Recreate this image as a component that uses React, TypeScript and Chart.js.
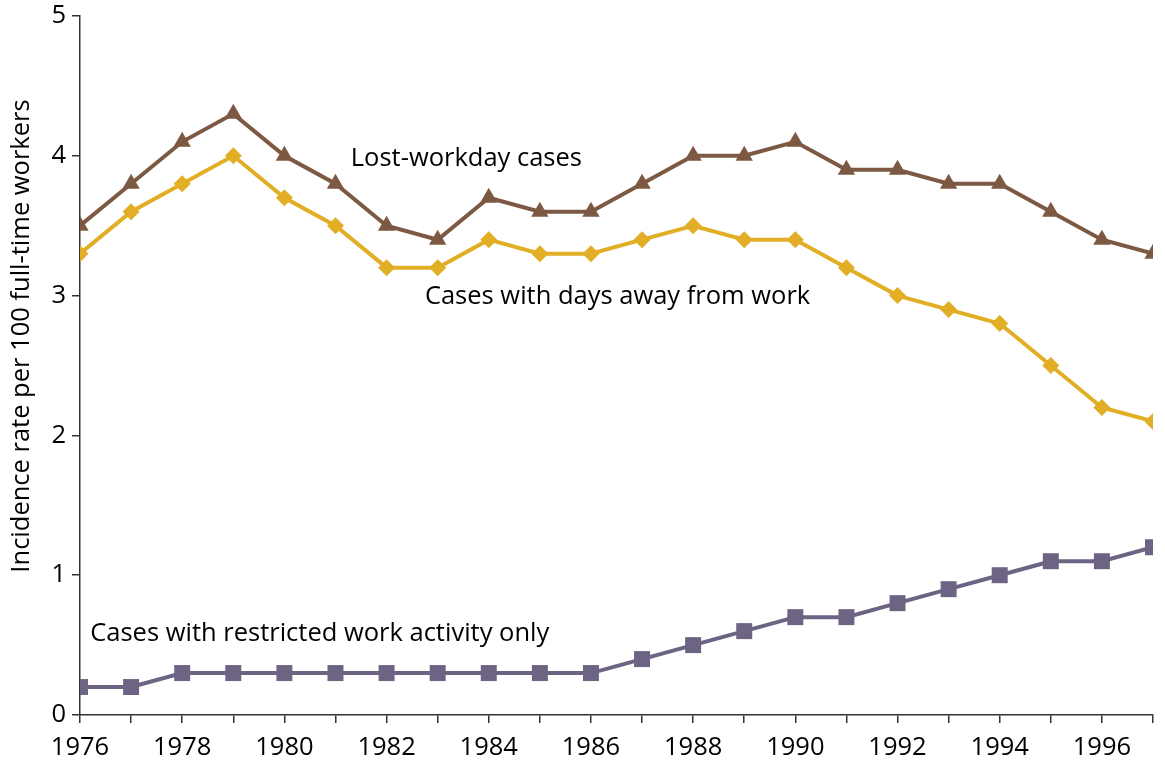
import React, { useEffect, useRef } from "react";
import { Chart, registerables } from "chart.js";

Chart.register(...registerables);

const years = [1976, 1977, 1978, 1979, 1980, 1981, 1982, 1983, 1984, 1985, 1986, 1987, 1988, 1989, 1990, 1991, 1992, 1993, 1994, 1995, 1996, 1997];
const lostWorkday = [3.5, 3.8, 4.1, 4.3, 4.0, 3.8, 3.5, 3.4, 3.7, 3.6, 3.6, 3.8, 4.0, 4.0, 4.1, 3.9, 3.9, 3.8, 3.8, 3.6, 3.4, 3.3];
const daysAway = [3.3, 3.6, 3.8, 4.0, 3.7, 3.5, 3.2, 3.2, 3.4, 3.3, 3.3, 3.4, 3.5, 3.4, 3.4, 3.2, 3.0, 2.9, 2.8, 2.5, 2.2, 2.1];
const restricted = [0.2, 0.2, 0.3, 0.3, 0.3, 0.3, 0.3, 0.3, 0.3, 0.3, 0.3, 0.4, 0.5, 0.6, 0.7, 0.7, 0.8, 0.9, 1.0, 1.1, 1.1, 1.2];
const seriesNames = ["Lost-workday cases", "Cases with days away from work", "Cases with restricted work activity only"];
const yTicks = [0, 1, 2, 3, 4, 5];
const yTitle = "Incidence rate per 100 full-time workers";

// annotation anchor points in data units [x, y]
const annotations = [
  { text: seriesNames[0], x: 1981.3, y: 3.98 },
  { text: seriesNames[1], x: 1982.75, y: 2.99 },
  { text: seriesNames[2], x: 1976.2, y: 0.58 },
];

const FONT = "'Open Sans', 'Noto Sans', sans-serif";

const labelPlugin = {
  id: "seriesLabels",
  afterDatasetsDraw(chart: any) {
    const { ctx, scales } = chart;
    ctx.save();
    ctx.fillStyle = "#000";
    ctx.font = `25.5px ${FONT}`;
    ctx.textAlign = "left";
    ctx.textBaseline = "middle";
    for (const a of annotations) {
      ctx.fillText(a.text, scales.x.getPixelForValue(a.x), scales.y.getPixelForValue(a.y));
    }
    // y axis title
    ctx.translate(22, 336);
    ctx.rotate(-Math.PI / 2);
    ctx.textAlign = "center";
    ctx.fillText(yTitle, 0, 0);
    ctx.restore();
  },
};

export default function App() {
  const ref = useRef<HTMLCanvasElement>(null);
  useEffect(() => {
    document.body.style.margin = "0";
    const toPts = (arr: number[]) => arr.map((v, i) => ({ x: years[i], y: v }));
    const chart = new Chart(ref.current!, {
      type: "line",
      data: {
        datasets: [
          {
            label: seriesNames[0],
            data: toPts(lostWorkday),
            borderColor: "#7d5943",
            backgroundColor: "#7d5943",
            borderWidth: 4,
            pointStyle: "triangle",
            pointRadius: 10,
            pointBorderWidth: 0,
          },
          {
            label: seriesNames[1],
            data: toPts(daysAway),
            borderColor: "#e1ae25",
            backgroundColor: "#e1ae25",
            borderWidth: 4,
            pointStyle: "rectRot",
            pointRadius: 8.5,
            pointBorderWidth: 0,
          },
          {
            label: seriesNames[2],
            data: toPts(restricted),
            borderColor: "#6d6483",
            backgroundColor: "#6d6483",
            borderWidth: 4,
            pointStyle: "rect",
            pointRadius: 11.3,
            pointBorderWidth: 0,
          },
        ],
      },
      options: {
        animation: false,
        responsive: false,
        maintainAspectRatio: false,
        layout: { padding: { top: 16, right: 12, left: 0, bottom: 0 } },
        plugins: { legend: { display: false }, tooltip: { enabled: false } },
        scales: {
          x: {
            type: "linear",
            min: 1976,
            max: 1997,
            afterFit: (s: any) => { s.height = 53; s.paddingLeft = 0; s.paddingRight = 0; },
            afterBuildTicks: (s: any) => { s.ticks = years.map((y) => ({ value: y })); },
            ticks: {
              autoSkip: false,
              maxRotation: 0,
              color: "#000",
              font: { family: FONT, size: 25.5 },
              padding: 9,
              callback: (v: any) => (Number(v) % 2 === 0 ? String(v) : ""),
            },
            grid: { drawOnChartArea: false, drawTicks: true, tickLength: 8, color: "#333", lineWidth: 1.5 },
            border: { display: true, color: "#333", width: 1.5 },
          },
          y: {
            min: 0,
            max: 5,
            afterFit: (s: any) => { s.width = 80; s.paddingTop = 0; s.paddingBottom = 0; },
            afterBuildTicks: (s: any) => { s.ticks = yTicks.map((v) => ({ value: v })); },
            ticks: { color: "#000", font: { family: FONT, size: 25.5 }, padding: 6 },
            grid: { drawOnChartArea: false, drawTicks: true, tickLength: 8, color: "#333", lineWidth: 1.5 },
            border: { display: true, color: "#333", width: 1.5 },
          },
        },
      },
      plugins: [labelPlugin],
    });
    return () => chart.destroy();
  }, []);
  return (
    <div style={{ position: "absolute", left: 0, top: 0, width: 1165, height: 768 }}>
      <canvas ref={ref} width={1165} height={768} style={{ width: 1165, height: 768 }} />
    </div>
  );
}
